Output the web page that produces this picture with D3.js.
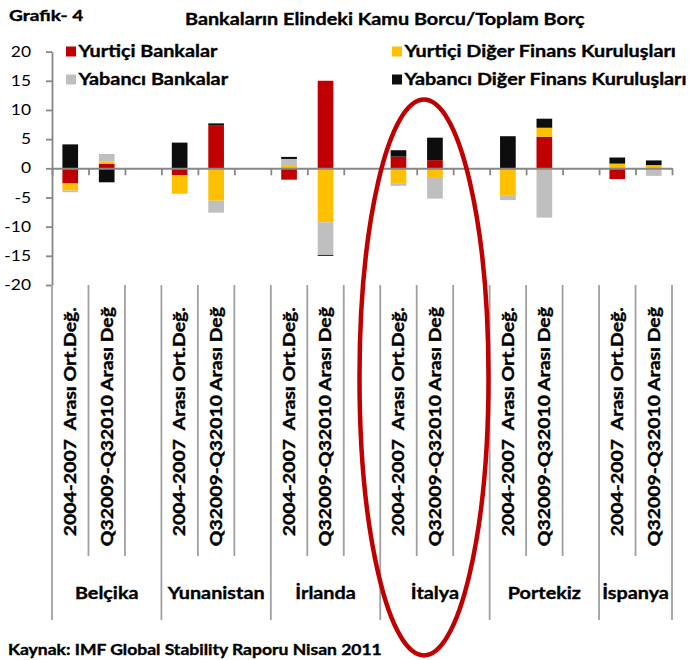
<!DOCTYPE html>
<html>
<head>
<meta charset="utf-8">
<script src="https://cdn.jsdelivr.net/npm/d3@7/dist/d3.min.js"></script>
<style>
  html, body { margin: 0; padding: 0; background: #fff; }
  svg { display: block; font-family: Lato, "Open Sans", sans-serif; }
  text { white-space: pre; }
</style>
</head>
<body>
<svg id="chart" width="691" height="660"></svg>
<script>
// ---- data ----
const countries = ["Belçika", "Yunanistan", "İrlanda", "İtalya", "Portekiz", "İspanya"];
const periods = ["2004-2007  Arası Ort.Değ.", "Q32009-Q32010 Arası Değ"];
const seriesNames = ["Yurtiçi Bankalar", "Yurtiçi Diğer Finans Kuruluşları", "Yabancı Bankalar", "Yabancı Diğer Finans Kuruluşları"];
const seriesColors = ["#C00000", "#FFC000", "#BFBFBF", "#0D0D0D"];
// values per bar, order: Belçika p1, p2, Yunanistan p1, p2, İrlanda p1, p2, İtalya p1, p2, Portekiz p1, p2, İspanya p1, p2
const yurticiBankalar = [-2.6, 0.75, -1.15, 7.4, -1.95, 15.0, 2.0, 1.4, 0, 5.4, -1.85, 0];
const yurticiDiger    = [-1.2, 0.4, -3.2, -5.55, 0.4, -9.25, -2.55, -1.5, -4.6, 1.55, 0.8, 0.55];
const yabanciBankalar = [-0.3, 1.3, -0.05, -2.05, 1.2, -5.6, -0.45, -3.7, -0.85, -8.45, 0, -1.3];
const yabanciDiger    = [4.1, -2.4, 4.4, 0.3, 0.35, -0.15, 1.1, 3.85, 5.5, 1.55, 1.05, 0.8];
const yTicks = [-20, -15, -10, -5, 0, 5, 10, 15, 20];
const titleText = "Bankaların Elindeki Kamu Borcu/Toplam Borç";
const grafikText = "Grafik- 4";
const sourceText = "Kaynak: IMF Global Stability Raporu Nisan 2011";

(function () {
// ---- build slots: 2 bars per country + an empty gap slot between countries ----
const slots = [];
const rows = [];
countries.forEach((c, ci) => {
  periods.forEach((p, pi) => {
    const i = ci * 2 + pi;
    const id = c + "|" + pi;
    slots.push(id);
    rows.push({ id, country: c, period: p,
      s0: yurticiBankalar[i], s1: yurticiDiger[i], s2: yabanciBankalar[i], s3: yabanciDiger[i] });
  });
  if (ci < countries.length - 1) slots.push("gap" + ci);
});

const SX = 1.2; // horizontal text stretch
const svg = d3.select("#chart");
const mLeft = 52, mRight = 672, mTop = 51.6, mBottom = 285;

const x = d3.scaleBand().domain(slots).range([mLeft, mRight]).padding(0);
const xb = d3.scaleLinear().domain([0, slots.length]).range([mLeft, mRight]); // slot boundaries
const y = d3.scaleLinear().domain([-20, 20]).range([mBottom, mTop]);

const keys = ["s0", "s1", "s2", "s3"];
const stack = d3.stack().keys(keys).offset(d3.stackOffsetDiverging);
const stacked = stack(rows);

const axisColor = "#878787";

// bars
const barW = x.bandwidth() * 0.43;
svg.append("g").selectAll("g").data(stacked).join("g")
  .attr("fill", (d, i) => seriesColors[i])
  .selectAll("rect").data(d => d).join("rect")
  .attr("x", d => x(d.data.id) + (x.bandwidth() - barW) / 2)
  .attr("width", barW)
  .attr("y", d => y(Math.max(d[0], d[1])))
  .attr("height", d => Math.abs(y(d[0]) - y(d[1])));

// y axis
const yAxis = svg.append("g").attr("transform", `translate(${mLeft},0)`)
  .call(d3.axisLeft(y).tickValues(yTicks).tickSize(6).tickSizeOuter(0).tickFormat(d => String(d)));
yAxis.select(".domain").attr("stroke", axisColor).attr("stroke-width", 1.8);
yAxis.selectAll(".tick line").attr("stroke", axisColor).attr("stroke-width", 1.8);
yAxis.selectAll(".tick text")
  .attr("x", -21 / SX).attr("transform", `scale(${SX},1)`)
  .attr("font-size", 14.5).attr("font-family", "Lato").attr("fill", "#000");

// zero axis with boundary ticks
const bIdx = d3.range(0, slots.length + 1);
const xAxis = svg.append("g").attr("transform", `translate(0,${y(0)})`)
  .call(d3.axisBottom(xb).tickValues(bIdx).tickSize(7).tickSizeOuter(0).tickFormat(""));
xAxis.select(".domain").attr("stroke", axisColor).attr("stroke-width", 2);
xAxis.selectAll(".tick line").attr("stroke", axisColor).attr("stroke-width", 1.8);

// category label lines
const groupBounds = new Set([0]);
slots.forEach((s, i) => { if (s.startsWith("gap")) groupBounds.add(i + 1); });
groupBounds.add(slots.length);
svg.append("g").selectAll("line").data(bIdx).join("line")
  .attr("x1", d => xb(d)).attr("x2", d => xb(d))
  .attr("y1", mBottom).attr("y2", d => groupBounds.has(d) ? 620 : 556)
  .attr("stroke", "#a0a0a0").attr("stroke-width", 1.8);

// helper for stretched text
function stext(parent, px, py, str, size, anchor, weight, rot) {
  return parent.append("text")
    .attr("transform", `translate(${px},${py})` + (rot ? ` rotate(${rot})` : "") + ` scale(${SX},1)`)
    .attr("text-anchor", anchor)
    .attr("font-size", size)
    .attr("font-weight", weight)
    .attr("fill", "#000")
    .attr("stroke", "#000")
    .attr("stroke-width", 0.35)
    .text(str);
}

// rotated period labels
const lab = svg.append("g");
rows.forEach(r => {
  stext(lab, x(r.id) + x.bandwidth() / 2, 307, r.period, 16.2, "end", "bold", -90)
    .attr("dy", "0.36em");
});

// country labels
const bs = [...groupBounds].sort((a, b) => a - b);
countries.forEach((c) => {
  const first = slots.indexOf(c + "|0");
  const endB = bs.find(b => b > first + 1);
  const cx = (xb(first) + xb(endB)) / 2;
  stext(lab, cx, 599, c, 16.5, "middle", "bold");
});

// titles
stext(svg, 9, 21, grafikText, 15.9, "start", "bold");
stext(svg, 185, 25, titleText, 16.5, "start", "bold");
stext(svg, 8, 655, sourceText, 14.6, "start", "bold");

// legend
const legendPos = [[66, 57], [392, 57], [66, 85], [392, 85]];
const leg = svg.append("g");
seriesNames.forEach((n, i) => {
  const [lx, ly] = legendPos[i];
  leg.append("rect").attr("x", lx).attr("y", ly - 10.5).attr("width", 10).attr("height", 10)
    .attr("fill", seriesColors[i]);
  stext(leg, lx + 12.5, ly, n, 16.5, "start", "bold");
});

// annotation ellipse
svg.append("ellipse")
  .attr("cx", 424).attr("cy", 377.5).attr("rx", 64.5).attr("ry", 278)
  .attr("fill", "none").attr("stroke", "#C00000").attr("stroke-width", 4.5);
})();
</script>
</body>
</html>
